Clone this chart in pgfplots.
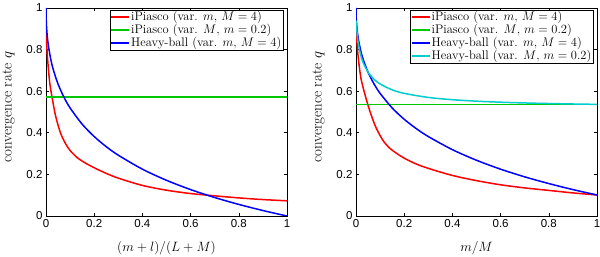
\RequirePackage{fix-cm}
\documentclass[border=0pt]{standalone}
\usepackage{fontspec}
\usepackage{pgfplots}
\pgfplotsset{compat=1.18}
\newfontfamily\hel{Liberation Sans}
\definecolor{mred}{RGB}{255,0,0}
\definecolor{mgreen}{RGB}{0,200,0}
\definecolor{mblue}{RGB}{0,0,255}
\definecolor{mcyan}{RGB}{0,205,205}
\pgfplotsset{
 legend image code/.code={\draw[#1, line width=1.5pt, sharp plot] (0pt,0pt) -- (18pt,0pt);},
 mystyle/.style={
  width=241pt,height=208pt,scale only axis,
  xmin=0,xmax=1,ymin=0,ymax=1,
  xtick={0,0.2,0.4,0.6,0.8,1}, ytick={0,0.2,0.4,0.6,0.8,1},
  tick align=inside, major tick length=3pt,
  axis line style={line width=0.6pt},
  every tick/.append style={line width=0.6pt, black},
  /pgf/number format/assume math mode=true,
  tick label style={font=\fontsize{11.5}{12}\selectfont\hel},
  ylabel={convergence rate $q$},
  ylabel style={font=\fontsize{15}{16}\selectfont, at={(rel axis cs:-0.1556,0.522)}, anchor=center},
  xlabel style={font=\fontsize{13.5}{15}\selectfont, at={(rel axis cs:0.5,-0.1538)}, anchor=center},
  legend style={at={(rel axis cs:1,1)}, anchor=north east, xshift=-3.7pt, yshift=-2pt,
    font=\fontsize{12.5}{14}\selectfont, inner sep=0.5pt, draw=black,
    nodes={inner xsep=1.3pt, inner ysep=0.3pt, text height=9.2pt, text depth=3.2pt}, row sep=0pt},
  legend cell align=left,
  every axis plot/.append style={line width=1.5pt, smooth},
 }
}
\begin{document}
\begin{tikzpicture}
\path[use as bounding box] (0,0) rectangle (600pt,257pt);
\begin{axis}[mystyle, at={(46pt,41pt)}, anchor=south west, xlabel={$(m+l)/(L+M)$}]
\addplot[mred] coordinates {(0,0.89) (0.004,0.80) (0.0083,0.73) (0.0125,0.675) (0.0166,0.63) (0.026,0.565) (0.04,0.48) (0.06,0.40) (0.08,0.35) (0.1,0.315) (0.13,0.28) (0.16,0.257) (0.2,0.232) (0.25,0.205) (0.3,0.182) (0.4,0.147) (0.5,0.124) (0.6,0.108) (0.7,0.097) (0.8,0.087) (0.9,0.079) (1,0.073)};
\addlegendentry{iPiasco (var. $m$, $M=4$)}
\addplot[mgreen] coordinates {(0,0.571) (1,0.571)};
\addlegendentry{iPiasco (var. $M$, $m=0.2$)}
\addplot[mblue] coordinates {(0,1) (0.0001,0.9802) (0.0005,0.9563) (0.002,0.9144) (0.005,0.8679) (0.01,0.8182) (0.02,0.7522) (0.03,0.7047) (0.05,0.6345) (0.075,0.5700) (0.1,0.5195) (0.15,0.4416) (0.2,0.3820) (0.25,0.3333) (0.3,0.2923) (0.4,0.2251) (0.5,0.1716) (0.6,0.1270) (0.7,0.0889) (0.8,0.0557) (0.9,0.0263) (1,0)};
\addlegendentry{Heavy-ball (var. $m$, $M=4$)}
\end{axis}
\begin{axis}[mystyle, at={(356pt,41pt)}, anchor=south west, xlabel={$m/M$}]
\addplot[mred] coordinates {(0,0.91) (0.003,0.85) (0.007,0.79) (0.0124,0.73) (0.02,0.665) (0.03,0.615) (0.04,0.572) (0.048,0.54) (0.062,0.489) (0.083,0.425) (0.111,0.365) (0.138,0.328) (0.166,0.303) (0.2,0.278) (0.25,0.25) (0.3,0.229) (0.4,0.195) (0.5,0.17) (0.6,0.15) (0.7,0.135) (0.8,0.123) (0.9,0.111) (1,0.101)};
\addlegendentry{iPiasco (var. $m$, $M=4$)}
\addplot[mgreen] coordinates {(0,0.537) (1,0.537)};
\addlegendentry{iPiasco (var. $M$, $m=0.2$)}
\addplot[mblue] coordinates {(0,1) (0.0001,0.9838) (0.0005,0.9641) (0.002,0.92955) (0.005,0.8908) (0.01,0.8490) (0.02,0.7930) (0.03,0.7522) (0.05,0.6912) (0.075,0.6345) (0.1,0.5896) (0.15,0.5195) (0.2,0.4650) (0.25,0.4202) (0.3,0.3820) (0.4,0.3189) (0.5,0.2680) (0.6,0.2251) (0.7,0.1882) (0.8,0.1560) (0.9,0.1270) (1,0.1010)};
\addlegendentry{Heavy-ball (var. $m$, $M=4$)}
\addplot[mcyan] coordinates {(0.001,0.939) (0.005,0.8709) (0.01,0.8259) (0.02,0.7713) (0.03,0.7363) (0.05,0.6912) (0.075,0.6570) (0.1,0.6345) (0.15,0.6065) (0.2,0.5896) (0.3,0.5700) (0.4,0.5591) (0.5,0.5520) (0.6,0.5471) (0.7,0.5435) (0.8,0.5407) (0.9,0.5385) (1,0.5367)};
\addlegendentry{Heavy-ball (var. $M$, $m=0.2$)}
\end{axis}
\end{tikzpicture}
\end{document}
